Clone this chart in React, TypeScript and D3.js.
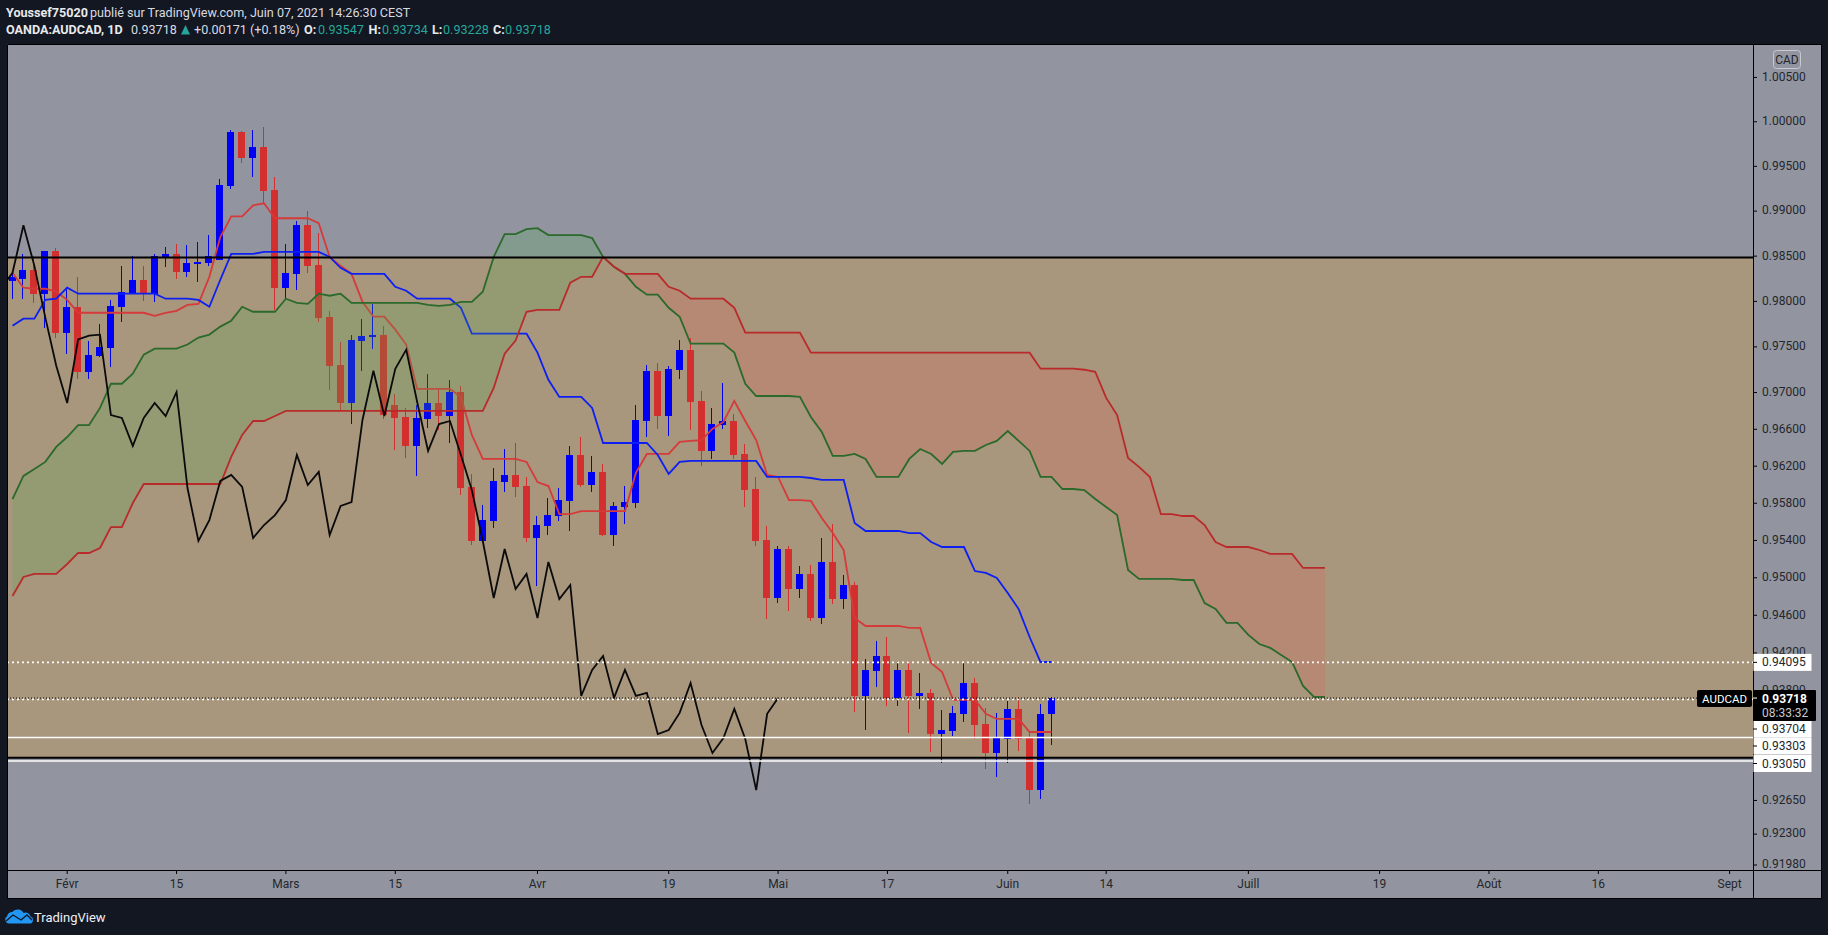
import * as d3 from "d3";
import { useEffect, useRef } from "react";

// AUDCAD daily candles, index 0 = 25 Jan 2021
const opens = [
  0.98222, 0.98244, 0.98343, 0.98079, 0.98552, 0.97651, 0.97935, 0.97222, 0.97398, 0.97486,
  0.97935, 0.98079, 0.98233, 0.98079, 0.98486, 0.98519, 0.98321, 0.98409, 0.9842, 0.98453,
  0.99274, 0.9988, 0.99589, 0.99712, 0.99229, 0.98145, 0.98299, 0.98838, 0.98398, 0.97826,
  0.97299, 0.96881, 0.97564, 0.97608, 0.97629, 0.96859, 0.96729, 0.96414, 0.96707, 0.96881,
  0.96739, 0.97001, 0.9597, 0.95389, 0.95603, 0.96024, 0.961, 0.9598, 0.95421, 0.95549,
  0.95657, 0.95819, 0.96316, 0.95991, 0.96133, 0.95453, 0.95754, 0.95797, 0.96685, 0.97233,
  0.96739, 0.97244, 0.97464, 0.96903, 0.9636, 0.96641, 0.96685, 0.96327, 0.95948, 0.95399,
  0.94779, 0.95303, 0.94875, 0.95036, 0.94565, 0.95164, 0.94768, 0.94918, 0.93741, 0.94004,
  0.94163, 0.9372, 0.94015, 0.93741, 0.93773, 0.9334, 0.93372, 0.93552, 0.93877, 0.93445,
  0.93141, 0.93287, 0.93604, 0.93298, 0.92753, 0.93547,
];
const highs = [
  0.9831, 0.98519, 0.98497, 0.98552, 0.98585, 0.98156, 0.98266, 0.97564, 0.97749, 0.98011,
  0.98387, 0.98497, 0.98387, 0.98519, 0.98596, 0.98629, 0.98618, 0.98651, 0.98728, 0.99353,
  0.99903, 0.99891, 0.99903, 0.99936, 0.99376, 0.98629, 0.98882, 0.98992, 0.9875, 0.97891,
  0.97553, 0.97629, 0.97804, 0.97967, 0.97727, 0.96979, 0.96827, 0.96859, 0.972, 0.97034,
  0.97134, 0.97068, 0.96111, 0.95775, 0.96176, 0.96381, 0.96446, 0.96078, 0.95657, 0.95851,
  0.95959, 0.96414, 0.96511, 0.96306, 0.96219, 0.95808, 0.9598, 0.96859, 0.97299, 0.97321,
  0.97288, 0.97575, 0.97597, 0.97012, 0.96827, 0.97101, 0.96761, 0.96435, 0.96078, 0.95549,
  0.95335, 0.95335, 0.95121, 0.95132, 0.95421, 0.9557, 0.95025, 0.9495, 0.94131, 0.94322,
  0.94364, 0.9411, 0.9411, 0.93982, 0.93814, 0.93594, 0.93636, 0.94099, 0.9393, 0.93615,
  0.93562, 0.93688, 0.9373, 0.93351, 0.93657, 0.93734,
];
const lows = [
  0.98024, 0.98024, 0.97978, 0.97706, 0.97597, 0.9742, 0.97145, 0.97145, 0.97387, 0.97277,
  0.97771, 0.98079, 0.98, 0.97989, 0.98376, 0.98244, 0.98266, 0.98211, 0.98387, 0.98453,
  0.9924, 0.99533, 0.99376, 0.99071, 0.97902, 0.98024, 0.98123, 0.9831, 0.97771, 0.97023,
  0.96794, 0.96652, 0.97233, 0.97475, 0.96707, 0.9637, 0.96284, 0.96089, 0.96609, 0.96587,
  0.96446, 0.95883, 0.95346, 0.95389, 0.95527, 0.95916, 0.95862, 0.95378, 0.94907, 0.95453,
  0.95603, 0.95496, 0.9597, 0.95916, 0.95442, 0.95335, 0.9557, 0.95743, 0.96511, 0.96598,
  0.96522, 0.97145, 0.96587, 0.96198, 0.96273, 0.96598, 0.96273, 0.95754, 0.95335, 0.94554,
  0.94725, 0.9464, 0.94779, 0.94532, 0.94501, 0.94714, 0.94661, 0.93573, 0.93382, 0.93835,
  0.93636, 0.93636, 0.93351, 0.93604, 0.93151, 0.93036, 0.93319, 0.93466, 0.93287, 0.92974,
  0.9289, 0.93036, 0.93162, 0.92606, 0.92659, 0.93228,
];
const closes = [
  0.98266, 0.98343, 0.98079, 0.98552, 0.97651, 0.97935, 0.97222, 0.97409, 0.97497, 0.97946,
  0.98101, 0.98233, 0.98079, 0.98497, 0.98519, 0.98321, 0.9842, 0.98431, 0.98497, 0.99285,
  0.9988, 0.99589, 0.99712, 0.99218, 0.98145, 0.9831, 0.98838, 0.98387, 0.97815, 0.97288,
  0.96881, 0.97575, 0.97618, 0.97629, 0.9675, 0.96718, 0.96414, 0.96718, 0.96881, 0.96739,
  0.97001, 0.95959, 0.95389, 0.95613, 0.96035, 0.961, 0.9597, 0.95421, 0.9556, 0.95667,
  0.95829, 0.96316, 0.95991, 0.96133, 0.95453, 0.95765, 0.95808, 0.96696, 0.97233, 0.96739,
  0.97255, 0.97464, 0.96892, 0.9636, 0.96652, 0.96685, 0.96316, 0.95937, 0.95389, 0.94779,
  0.95303, 0.94875, 0.95036, 0.94565, 0.95164, 0.94768, 0.94918, 0.93741, 0.94015, 0.94163,
  0.9372, 0.94015, 0.93741, 0.93773, 0.9334, 0.93382, 0.93562, 0.93877, 0.93435, 0.93141,
  0.93298, 0.93604, 0.93287, 0.92753, 0.93552, 0.93718,
];

// Ichimoku lines
const tenkan = [
  0.9831, 0.98145, 0.98134, 0.98134, 0.98101, 0.98011, 0.97869, 0.97869, 0.97869, 0.97869,
  0.97869, 0.97869, 0.97869, 0.97836, 0.97869, 0.97891, 0.97956, 0.97967, 0.98266, 0.98706,
  0.98937, 0.98937, 0.99059, 0.99082, 0.98915, 0.98915, 0.98915, 0.98915, 0.9886, 0.98486,
  0.98387, 0.98299, 0.97989, 0.97826, 0.97826, 0.97684, 0.9752, 0.97034, 0.97034, 0.97034,
  0.97034, 0.96947, 0.96533, 0.96273, 0.96273, 0.96273, 0.96273, 0.96241, 0.96024, 0.9598,
  0.95678, 0.95678, 0.9571, 0.9571, 0.9571, 0.9571, 0.9571, 0.96122, 0.96327, 0.96327,
  0.96327, 0.96457, 0.96468, 0.96478, 0.96598, 0.96674, 0.96903, 0.96685, 0.96478, 0.961,
  0.96078, 0.95829, 0.95829, 0.95819, 0.95635, 0.95474, 0.95292, 0.94565, 0.94481, 0.94481,
  0.94481, 0.94481, 0.9446, 0.9446, 0.94088, 0.93993, 0.93699, 0.93699, 0.93699, 0.93552,
  0.93498, 0.93498, 0.93498, 0.93361, 0.93361, 0.93361,
];
const kijun = [
  0.97727, 0.97804, 0.97804, 0.98011, 0.98024, 0.98145, 0.98079, 0.98079, 0.98079, 0.98079,
  0.98079, 0.98079, 0.98079, 0.98079, 0.98024, 0.98024, 0.98024, 0.98011, 0.97935, 0.98233,
  0.98519, 0.98519, 0.98519, 0.98541, 0.98541, 0.98541, 0.98541, 0.98541, 0.98541, 0.98486,
  0.98365, 0.98299, 0.98299, 0.98299, 0.98299, 0.98156, 0.98112, 0.98024, 0.98024, 0.98024,
  0.98024, 0.97924, 0.9764, 0.9764, 0.9764, 0.9764, 0.9764, 0.9764, 0.97431, 0.97134,
  0.96947, 0.96947, 0.96947, 0.96827, 0.96446, 0.96446, 0.96446, 0.96446, 0.96446, 0.96316,
  0.96111, 0.96241, 0.96252, 0.96252, 0.96252, 0.96252, 0.96252, 0.96252, 0.96252, 0.96078,
  0.96078, 0.96078, 0.96078, 0.96067, 0.96046, 0.96046, 0.96046, 0.95582, 0.95496, 0.95496,
  0.95496, 0.95496, 0.95474, 0.95474, 0.95378, 0.95324, 0.95324, 0.95324, 0.95067, 0.95046,
  0.94993, 0.94832, 0.94661, 0.94364, 0.94099, 0.94099,
];
const senkouA = [
  0.9584, 0.96089, 0.96165, 0.96241, 0.96403, 0.96511, 0.96641, 0.96641, 0.96827, 0.97091,
  0.97091, 0.972, 0.97409, 0.97475, 0.97475, 0.97475, 0.9752, 0.97597, 0.97629, 0.97717,
  0.97782, 0.97935, 0.9788, 0.9788, 0.9788, 0.98024, 0.97978, 0.97967, 0.98079, 0.98057,
  0.98079, 0.97978, 0.97978, 0.97978, 0.97978, 0.97978, 0.97978, 0.97978, 0.97956, 0.97946,
  0.97956, 0.97989, 0.97989, 0.98101, 0.98486, 0.98738, 0.98738, 0.98794, 0.98805, 0.98728,
  0.98728, 0.98728, 0.98728, 0.98695, 0.98486, 0.98376, 0.98299, 0.98156, 0.98068, 0.98068,
  0.97924, 0.97826, 0.97531, 0.97531, 0.97531, 0.97531, 0.97431, 0.97091, 0.96957, 0.96957,
  0.96957, 0.96957, 0.96947, 0.96729, 0.96565, 0.96306, 0.96306, 0.96327, 0.96273, 0.96078,
  0.96078, 0.96078, 0.96273, 0.96381, 0.96327, 0.96219, 0.96349, 0.9636, 0.9636, 0.96424,
  0.96468, 0.96576, 0.96468, 0.9636, 0.96078, 0.96078, 0.95948, 0.95948, 0.95937, 0.9584,
  0.95754, 0.95667, 0.95078, 0.94982, 0.94982, 0.94982, 0.94982, 0.94971, 0.94971, 0.94725,
  0.94661, 0.94514, 0.94514, 0.94386, 0.9429, 0.94248, 0.94174, 0.94099, 0.93846, 0.9373,
  0.9373,
];
const senkouB = [
  0.948, 0.95003, 0.95036, 0.95036, 0.95036, 0.95142, 0.9526, 0.9526, 0.95314, 0.95538,
  0.95538, 0.95797, 0.96002, 0.96002, 0.96002, 0.96002, 0.96002, 0.96002, 0.96002, 0.96002,
  0.96295, 0.96533, 0.96685, 0.96685, 0.96739, 0.96794, 0.96794, 0.96794, 0.96794, 0.96794,
  0.96794, 0.96794, 0.96794, 0.96794, 0.96794, 0.96794, 0.96794, 0.96794, 0.96794, 0.96794,
  0.96794, 0.96794, 0.96794, 0.96794, 0.97045, 0.9742, 0.97564, 0.9788, 0.97902, 0.97902,
  0.97902, 0.982, 0.98266, 0.98266, 0.98486, 0.98376, 0.98299, 0.98299, 0.98299, 0.98299,
  0.98156, 0.98112, 0.98024, 0.98024, 0.98024, 0.98024, 0.97924, 0.97651, 0.97651, 0.97651,
  0.97651, 0.97651, 0.97651, 0.97431, 0.97431, 0.97431, 0.97431, 0.97431, 0.97431, 0.97431,
  0.97431, 0.97431, 0.97431, 0.97431, 0.97431, 0.97431, 0.97431, 0.97431, 0.97431, 0.97431,
  0.97431, 0.97431, 0.97431, 0.97431, 0.97255, 0.97255, 0.97255, 0.97255, 0.97244, 0.97222,
  0.96936, 0.9675, 0.96284, 0.96187, 0.96078, 0.95678, 0.95678, 0.95657, 0.95657, 0.9556,
  0.95378, 0.95324, 0.95324, 0.95324, 0.95292, 0.9525, 0.9525, 0.9525, 0.951, 0.951,
  0.951,
];
// lagging line starts one bar before the first candle
const chikouStart = -1;
const chikou = [
  0.98145, 0.9831, 0.98838, 0.98387, 0.97815, 0.97288, 0.96881, 0.97575, 0.97618, 0.97629,
  0.9675, 0.96718, 0.96414, 0.96718, 0.96881, 0.96739, 0.97001, 0.95959, 0.95389, 0.95613,
  0.96035, 0.961, 0.9597, 0.95421, 0.9556, 0.95667, 0.95829, 0.96316, 0.95991, 0.96133,
  0.95453, 0.95765, 0.95808, 0.96696, 0.97233, 0.96739, 0.97255, 0.97464, 0.96892, 0.9636,
  0.96652, 0.96685, 0.96316, 0.95937, 0.95389, 0.94779, 0.95303, 0.94875, 0.95036, 0.94565,
  0.95164, 0.94768, 0.94918, 0.93741, 0.94015, 0.94163, 0.9372, 0.94015, 0.93741, 0.93773,
  0.9334, 0.93382, 0.93562, 0.93877, 0.93435, 0.93141, 0.93298, 0.93604, 0.93287, 0.92753,
  0.93552, 0.93718,
];

// axis labels
const priceTicks = [
  1.005, 1, 0.995, 0.99, 0.985, 0.98, 0.975, 0.97, 0.966, 0.962, 0.958, 0.954, 0.95, 0.946,
  0.942, 0.938, 0.9265, 0.923, 0.9198,
];
const timeTickIndex = [5, 15, 25, 35, 48, 60, 70, 80, 91, 100, 113, 125, 135, 145, 157];
const timeTickLabels = [
  "Févr", "15", "Mars", "15", "Avr", "19", "Mai", "17", "Juin", "14", "Juill", "19", "Août", "16", "Sept",
];

// horizontal levels
const zoneTop = 0.98478;
const zoneBottom = 0.93092;
const solidWhiteLevels = [0.93303, 0.93056];
const dottedWhiteLevels = [0.94095, 0.93704];
const lastPrice = 0.93718;
const whiteBadges = [
  { price: 0.94095, textPrice: 0.94095 },
  { price: 0.93704, textPrice: 0.93704, shown: 729 },
  { price: 0.93303, textPrice: 0.93303, shown: 746 },
  { price: 0.9305, textPrice: 0.9305, shown: 763.5 },
];

const BG = "#131722";
const PANE = "#92959f";
const TAN = "#a8967d";
const AXIS_TEXT = "#24262c";
const FONT = "Roboto, sans-serif";

export default function App() {
  const ref = useRef<SVGSVGElement>(null);

  useEffect(() => {
    const svg = d3.select(ref.current);
    svg.selectAll("*").remove();

    const W = 1828,
      H = 935;
    const pane = { left: 7, top: 44, right: 1753, bottom: 870 };
    const outerRight = 1821,
      outerBottom = 898;

    const x = d3.scaleLinear().domain([0, 95]).range([12, 1051]);
    const y = d3.scaleLog().domain([1.00873, 0.91923]).range([pane.top, pane.bottom]);
    const px = (i: number) => Math.floor(x(i)) + 0.5;

    svg.append("rect").attr("width", W).attr("height", H).attr("fill", BG);
    svg
      .append("rect")
      .attr("x", pane.left)
      .attr("y", pane.top)
      .attr("width", outerRight - pane.left)
      .attr("height", outerBottom - pane.top)
      .attr("fill", PANE);

    const defs = svg.append("defs");
    defs
      .append("clipPath")
      .attr("id", "pane-clip")
      .append("rect")
      .attr("x", pane.left)
      .attr("y", pane.top)
      .attr("width", pane.right - pane.left)
      .attr("height", pane.bottom - pane.top);

    const plot = svg.append("g").attr("clip-path", "url(#pane-clip)");

    // tan zone between the two black levels
    plot
      .append("rect")
      .attr("x", pane.left)
      .attr("width", pane.right - pane.left)
      .attr("y", y(zoneTop))
      .attr("height", y(zoneBottom) - y(zoneTop))
      .attr("fill", TAN);

    const hLine = (price: number, color: string, width: number, dash?: string) =>
      plot
        .append("line")
        .attr("x1", pane.left)
        .attr("x2", pane.right)
        .attr("y1", y(price))
        .attr("y2", y(price))
        .attr("stroke", color)
        .attr("stroke-width", width)
        .attr("stroke-dasharray", dash ?? null);

    // candles
    const bars = d3.range(opens.length);
    const candleColor = (i: number) => (closes[i] >= opens[i] ? "#0000f5" : "#d32f2f");
    plot
      .append("g")
      .selectAll("rect")
      .data(bars)
      .enter()
      .append("rect")
      .attr("x", (i) => px(i) - 0.5)
      .attr("width", 1)
      .attr("y", (i) => y(highs[i]))
      .attr("height", (i) => y(lows[i]) - y(highs[i]))
      .attr("fill", candleColor)
      .attr("shape-rendering", "crispEdges");
    plot
      .append("g")
      .selectAll("rect")
      .data(bars)
      .enter()
      .append("rect")
      .attr("x", (i) => px(i) - 3.5)
      .attr("width", 7)
      .attr("y", (i) => y(Math.max(opens[i], closes[i])))
      .attr("height", (i) => Math.max(1, y(Math.min(opens[i], closes[i])) - y(Math.max(opens[i], closes[i]))))
      .attr("fill", candleColor)
      .attr("shape-rendering", "crispEdges");

    const linePath = (start: number) =>
      d3
        .line<number>()
        .x((_, i) => x(i + start) + 0.5)
        .y((d) => y(d));
    const LINE_W = 1.8;

    plot
      .append("path")
      .attr("d", linePath(0)(tenkan))
      .attr("fill", "none")
      .attr("stroke", "#d63a3a")
      .attr("stroke-width", LINE_W);
    plot
      .append("path")
      .attr("d", linePath(0)(kijun))
      .attr("fill", "none")
      .attr("stroke", "#0d1ff2")
      .attr("stroke-width", LINE_W);

    // cloud, drawn above the candles so they show through it
    const cloud = d3
      .area<number>()
      .x((i) => x(i) + 0.5)
      .y0((i) => y(senkouA[i]))
      .y1((i) => y(senkouB[i]));
    const cloudIdx = d3.range(senkouA.length);
    plot
      .append("path")
      .attr("d", cloud.defined((i) => senkouA[i] >= senkouB[i])(cloudIdx))
      .attr("fill", "rgba(76,175,80,0.22)");
    plot
      .append("path")
      .attr("d", cloud.defined((i) => senkouA[i] <= senkouB[i])(cloudIdx))
      .attr("fill", "rgba(239,83,80,0.2)");

    plot
      .append("path")
      .attr("d", linePath(0)(senkouA))
      .attr("fill", "none")
      .attr("stroke", "#2b6a2b")
      .attr("stroke-width", LINE_W);
    plot
      .append("path")
      .attr("d", linePath(0)(senkouB))
      .attr("fill", "none")
      .attr("stroke", "#b92b2b")
      .attr("stroke-width", LINE_W);
    plot
      .append("path")
      .attr("d", linePath(chikouStart)(chikou))
      .attr("fill", "none")
      .attr("stroke", "#0a0a0a")
      .attr("stroke-width", LINE_W);

    // levels
    hLine(zoneTop, "#000", 2);
    hLine(zoneBottom, "#000", 2);
    solidWhiteLevels.forEach((p) => hLine(p, "#fff", 1.5));
    dottedWhiteLevels.forEach((p) => hLine(p, "#fff", 1.7, "2 3"));
    hLine(lastPrice, "#000", 1, "1 2");

    // axes frame
    svg
      .append("path")
      .attr(
        "d",
        `M${pane.left} ${pane.top}H${outerRight}V${outerBottom}H${pane.left}Z` +
          `M${pane.left} ${pane.bottom}H${outerRight}M${pane.right} ${pane.top}V${outerBottom}`
      )
      .attr("fill", "none")
      .attr("stroke", "#000")
      .attr("stroke-width", 1)
      .attr("transform", "translate(0.5,0.5)");

    // price axis
    const yAxis = svg
      .append("g")
      .attr("transform", `translate(${pane.right},0)`)
      .call(
        d3
          .axisRight(y)
          .tickValues(priceTicks)
          .tickSize(4)
          .tickPadding(5)
          .tickFormat((d) => d3.format(".5f")(+d))
      );
    yAxis.select(".domain").remove();
    yAxis.selectAll("line").attr("stroke", "#000");
    yAxis
      .selectAll("text")
      .attr("fill", AXIS_TEXT)
      .style("font", `12px ${FONT}`)
      .attr("dy", "0.28em");

    // time axis
    const xAxis = svg
      .append("g")
      .attr("transform", `translate(0,${pane.bottom})`)
      .call(
        d3
          .axisBottom(x)
          .tickValues(timeTickIndex)
          .tickSize(4)
          .tickPadding(5)
          .tickFormat((_, i) => timeTickLabels[i])
      );
    xAxis.select(".domain").remove();
    xAxis.selectAll("line").attr("stroke", "#000");
    xAxis.selectAll("text").attr("fill", AXIS_TEXT).style("font", `12px ${FONT}`);

    // white level badges
    const badges = svg.append("g");
    whiteBadges.forEach((b) => {
      const cy = b.shown ?? y(b.price);
      badges
        .append("rect")
        .attr("x", pane.right + 0.5)
        .attr("y", cy - 8.5)
        .attr("width", 58)
        .attr("height", 17)
        .attr("fill", "#fff");
      badges
        .append("line")
        .attr("x1", pane.right)
        .attr("x2", pane.right + 4)
        .attr("y1", cy)
        .attr("y2", cy)
        .attr("stroke", "#000");
      badges
        .append("text")
        .attr("x", pane.right + 9)
        .attr("y", cy + 4)
        .attr("fill", AXIS_TEXT)
        .style("font", `12px ${FONT}`)
        .text(d3.format(".5f")(b.textPrice));
    });

    // last price badges
    badges
      .append("rect")
      .attr("x", pane.right)
      .attr("y", 690)
      .attr("width", 63)
      .attr("height", 31)
      .attr("fill", "#000")
      .attr("rx", 1);
    badges
      .append("rect")
      .attr("x", 1697)
      .attr("y", 690)
      .attr("width", 55)
      .attr("height", 17)
      .attr("rx", 2)
      .attr("fill", "#000");
    badges
      .append("text")
      .attr("x", 1724.5)
      .attr("y", 703)
      .attr("text-anchor", "middle")
      .attr("fill", "#fff")
      .style("font", `11.5px ${FONT}`)
      .text("AUDCAD");
    badges
      .append("line")
      .attr("x1", pane.right)
      .attr("x2", pane.right + 4)
      .attr("y1", y(lastPrice))
      .attr("y2", y(lastPrice))
      .attr("stroke", "#fff");
    badges
      .append("text")
      .attr("x", pane.right + 9)
      .attr("y", 703)
      .attr("fill", "#fff")
      .style("font", `bold 12px ${FONT}`)
      .text(d3.format(".5f")(lastPrice));
    badges
      .append("text")
      .attr("x", pane.right + 9)
      .attr("y", 717)
      .attr("fill", "#c8cad0")
      .style("font", `12px ${FONT}`)
      .text("08:33:32");

    // currency tag
    badges
      .append("rect")
      .attr("x", 1773.5)
      .attr("y", 50.5)
      .attr("width", 27)
      .attr("height", 18)
      .attr("rx", 3)
      .attr("fill", "none")
      .attr("stroke", "#c8cad0");
    badges
      .append("text")
      .attr("x", 1787)
      .attr("y", 63.5)
      .attr("text-anchor", "middle")
      .attr("fill", AXIS_TEXT)
      .style("font", `12px ${FONT}`)
      .text("CAD");

    // header
    const TEAL = "#26a69a";
    const head = svg.append("g").style("font", `12.6px ${FONT}`);
    const put = (tx: number, ty: number, s: string, color: string, bold = false) =>
      head
        .append("text")
        .attr("x", tx)
        .attr("y", ty)
        .attr("fill", color)
        .attr("font-weight", bold ? 700 : 400)
        .text(s);
    put(6, 17, "Youssef75020", "#e8e9ec", true);
    put(90, 17, "publié sur TradingView.com, Juin 07, 2021 14:26:30 CEST", "#d8dae0");
    put(6, 34, "OANDA:AUDCAD, 1D", "#e8e9ec", true);
    put(131, 34, "0.93718", "#d8dae0");
    put(194, 34, "+0.00171 (+0.18%)", "#d8dae0");
    put(304, 34, "O:", "#e8e9ec", true);
    put(318, 34, "0.93547", TEAL);
    put(368.5, 34, "H:", "#e8e9ec", true);
    put(382, 34, "0.93734", TEAL);
    put(432, 34, "L:", "#e8e9ec", true);
    put(443, 34, "0.93228", TEAL);
    put(493, 34, "C:", "#e8e9ec", true);
    put(505, 34, "0.93718", TEAL);
    head.append("path").attr("d", "M181 34.5L185.5 25L190 34.5Z").attr("fill", TEAL);

    // TradingView logo
    const logo = svg.append("g");
    logo
      .append("path")
      .attr("d", "M9 923.5H29a3.6 3.6 0 0 0 1.5-7a5 5 0 0 0-7-3.5a6.5 6.5 0 0 0-11-1a5.5 5.5 0 0 0-5.5 4.5a3.8 3.8 0 0 0 2 7Z")
      .attr("fill", "#2196f3");
    logo
      .append("path")
      .attr("d", "M6 921L13 915L21 920L27 915L32 920")
      .attr("fill", "none")
      .attr("stroke", BG)
      .attr("stroke-width", 1.4);
    logo
      .append("text")
      .attr("x", 34)
      .attr("y", 921.5)
      .attr("fill", "#eef0f3")
      .style("font", `13px ${FONT}`)
      .text("TradingView");
  }, []);

  return (
    <svg
      ref={ref}
      width={1828}
      height={935}
      style={{ position: "absolute", left: 0, top: 0, display: "block" }}
    />
  );
}
